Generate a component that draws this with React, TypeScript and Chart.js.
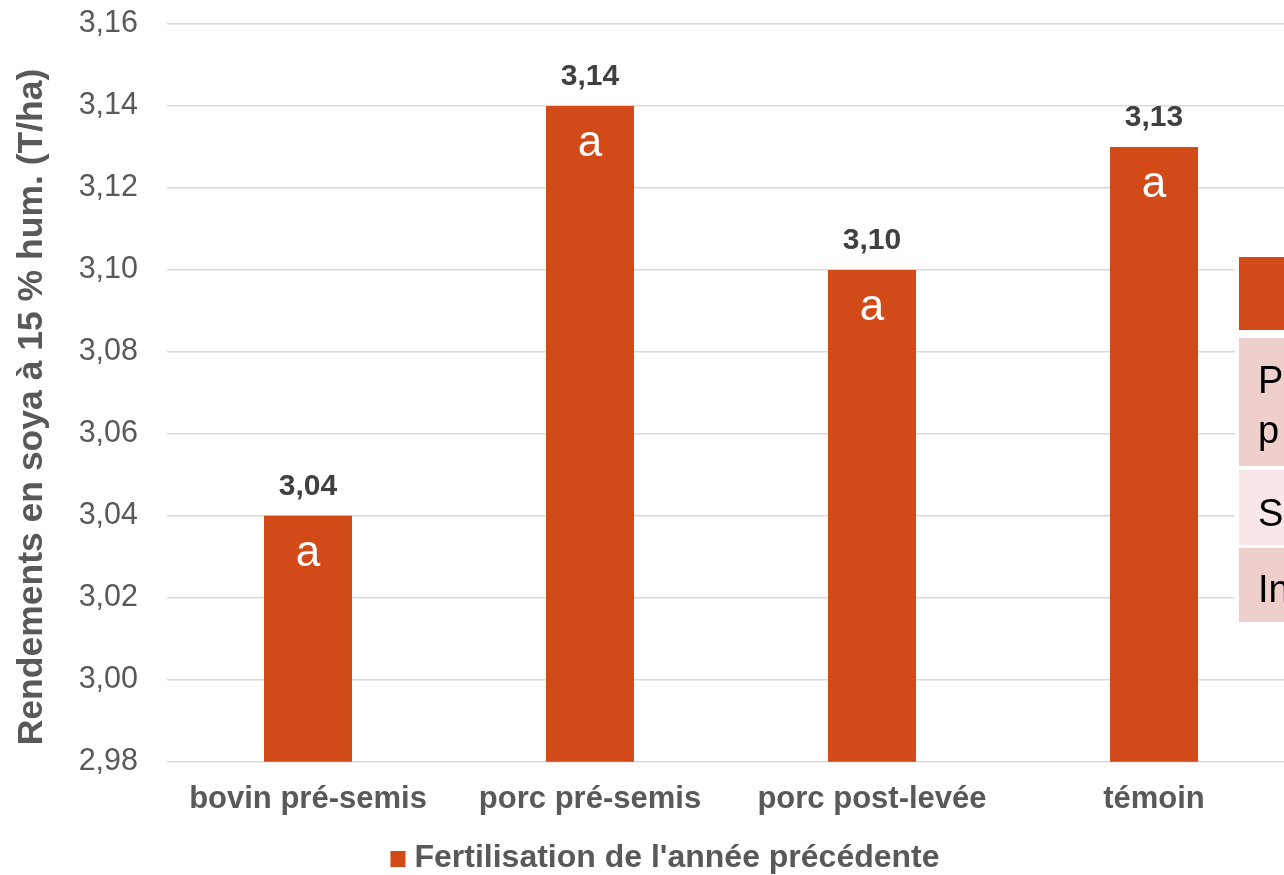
import React, { useEffect, useRef } from "react";
import { Chart, registerables } from "chart.js";

Chart.register(...registerables);

const categories = ["bovin pré-semis", "porc pré-semis", "porc post-levée", "témoin"];
const yields = [3.04, 3.14, 3.1, 3.13];
const groupLetters = ["a", "a", "a", "a"];
const seriesLabel = "Fertilisation de l'année précédente";
const yAxisTitle = "Rendements en soya à 15 % hum. (T/ha)";
const yMin = 2.98;
const yMax = 3.16;
const yStep = 0.02;
const tableRows = [["P", "p"], ["S"], ["In"]];

const FONT = '"Liberation Sans", Arial, Helvetica, sans-serif';
const BAR = "#D24A17";
const CANVAS_W = 1310;
const CANVAS_H = 875;

const fmt = (v: number) => v.toFixed(2).replace(".", ",");

const overlayPlugin = {
  id: "overlay",
  afterDatasetsDraw(chart: any) {
    const ctx = chart.ctx;
    const meta = chart.getDatasetMeta(0);
    ctx.save();
    meta.data.forEach((bar: any, i: number) => {
      ctx.textAlign = "center";
      ctx.textBaseline = "middle";
      ctx.fillStyle = "#404040";
      ctx.font = `bold 30px ${FONT}`;
      ctx.fillText(fmt(yields[i]), bar.x, bar.y - 29);
      ctx.fillStyle = "#FFFFFF";
      ctx.font = `44px ${FONT}`;
      ctx.fillText(groupLetters[i], bar.x, bar.y + 38);
    });
    ctx.restore();
  },
  afterDraw(chart: any) {
    const ctx = chart.ctx;
    ctx.save();
    // y-axis title
    ctx.translate(32, 407);
    ctx.rotate(-Math.PI / 2);
    ctx.textAlign = "center";
    ctx.textBaseline = "middle";
    ctx.fillStyle = "#595959";
    ctx.font = `bold 35.5px ${FONT}`;
    ctx.fillText(yAxisTitle, 0, 0);
    ctx.restore();

    // legend
    ctx.save();
    ctx.font = `bold 32px ${FONT}`;
    const tw = ctx.measureText(seriesLabel).width;
    const total = 15 + 9 + tw;
    const lx = 665 - total / 2;
    ctx.fillStyle = BAR;
    ctx.fillRect(lx, 851, 15, 16);
    ctx.fillStyle = "#595959";
    ctx.textAlign = "left";
    ctx.textBaseline = "middle";
    ctx.fillText(seriesLabel, lx + 24, 858);
    ctx.restore();

    // overlaid table (partially visible)
    ctx.save();
    ctx.fillStyle = "#FFFFFF";
    ctx.fillRect(1235, 254, 100, 372);
    ctx.fillStyle = "#D24A17";
    ctx.fillRect(1239, 257, 100, 73);
    ctx.fillStyle = "#EFCFCC";
    ctx.fillRect(1239, 338, 100, 128);
    ctx.fillStyle = "#F8E7E6";
    ctx.fillRect(1239, 470, 100, 75);
    ctx.fillStyle = "#EFCFCC";
    ctx.fillRect(1239, 548, 100, 74);
    ctx.fillStyle = "#000000";
    ctx.font = `38px ${FONT}`;
    ctx.textAlign = "left";
    ctx.textBaseline = "alphabetic";
    ctx.fillText(tableRows[0][0], 1258, 393);
    ctx.fillText(tableRows[0][1], 1258, 443);
    ctx.fillText(tableRows[1][0], 1258, 526);
    ctx.fillText(tableRows[2][0], 1258, 602);
    ctx.restore();
  },
};

export default function App() {
  const ref = useRef<HTMLCanvasElement | null>(null);

  useEffect(() => {
    if (!ref.current) return;
    const chart = new Chart(ref.current, {
      type: "bar",
      data: {
        labels: categories,
        datasets: [
          {
            label: seriesLabel,
            data: yields,
            backgroundColor: BAR,
            borderWidth: 0,
            barPercentage: 0.312,
            categoryPercentage: 1,
          },
        ],
      },
      options: {
        responsive: true,
        maintainAspectRatio: false,
        animation: false,
        layout: { padding: { left: 12, top: 24, right: CANVAS_W - 1295, bottom: 38 } },
        plugins: {
          legend: { display: false },
          tooltip: { enabled: false },
        },
        scales: {
          x: {
            grid: { display: false, drawTicks: false },
            border: { display: false },
            ticks: {
              autoSkip: false,
              maxRotation: 0,
              color: "#595959",
              padding: 19,
              font: { family: FONT, size: 31, weight: "bold" },
            },
          },
          y: {
            min: yMin,
            max: yMax,
            grid: { color: "#D9D9D9", lineWidth: 1.5, drawTicks: false },
            border: { display: false },
            ticks: {
              stepSize: yStep,
              color: "#595959",
              padding: 29,
              font: { family: FONT, size: 30.5 },
              callback: (v: any) => fmt(Number(v)),
            },
            afterFit: (s: any) => {
              s.width = 155;
              s.paddingTop = 0;
              s.paddingBottom = 0;
            },
          },
        },
      },
      plugins: [overlayPlugin],
    });
    return () => chart.destroy();
  }, []);

  return (
    <div
      style={{
        position: "fixed",
        left: 0,
        top: 0,
        width: 1284,
        height: CANVAS_H,
        overflow: "hidden",
        background: "#FFFFFF",
      }}
    >
      <div style={{ position: "relative", width: CANVAS_W, height: CANVAS_H }}>
        <canvas ref={ref} />
      </div>
    </div>
  );
}
